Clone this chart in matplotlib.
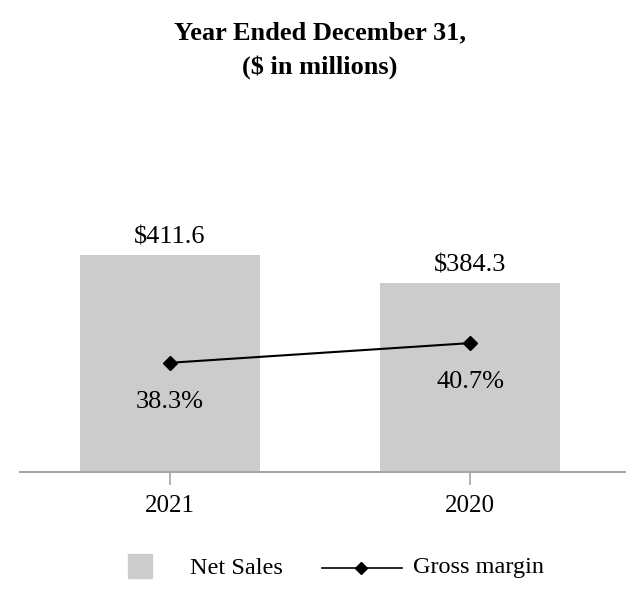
import matplotlib.pyplot as plt
from matplotlib.patches import Rectangle
from matplotlib.lines import Line2D

# data
years = ["2021", "2020"]
net_sales = [411.6, 384.3]
gross_margin = [38.3, 40.7]
sales_labels = ["$411.6", "$384.3"]
margin_labels = ["38.3%", "40.7%"]

plt.rcParams['font.family'] = ['Liberation Serif', 'DejaVu Serif']

BAR_COLOR = "#CCCCCC"
AXIS_COLOR = "#A6A6A6"

fig = plt.figure(figsize=(6.4, 6.12), dpi=100)
ax = fig.add_axes([0.031, 0.229, 0.946, 0.67])
ax2 = ax.twinx()

x = list(range(len(years)))
ax.bar(x, net_sales, width=0.6, color=BAR_COLOR, zorder=1)
ax.set_xlim(-0.5, 1.517)
ax.set_ylim(201, 600)

for xi, v, lab in zip(x, net_sales, sales_labels):
    ax.annotate(lab, (xi, v), xytext=(0, 5), textcoords="offset points",
                ha="center", va="bottom", fontsize=19)

ax2.plot(x, gross_margin, color="black", linewidth=1.5, marker="D",
         markersize=7, zorder=3)
ax2.set_ylim(25, 75)
for xi, v, lab in zip(x, gross_margin, margin_labels):
    ax2.annotate(lab, (xi, v), xytext=(0, -28), textcoords="offset points",
                 ha="center", va="center", fontsize=19)

# axes styling
for a in (ax, ax2):
    for s in ("top", "right", "left"):
        a.spines[s].set_visible(False)
    a.set_yticks([])
ax2.spines["bottom"].set_visible(False)
ax.spines["bottom"].set_color(AXIS_COLOR)
ax.spines["bottom"].set_linewidth(1.5)
ax.set_xticks(x)
ax.set_xticklabels(years, fontsize=18)
ax.tick_params(axis="x", length=9, width=1.2, color=AXIS_COLOR, pad=8)

# title
fig.text(0.5, 1 - 33 / 612, "Year Ended December 31,", ha="center", va="center",
         fontsize=19, fontweight="bold")
fig.text(0.5, 1 - 67 / 612, "($ in millions)", ha="center", va="center",
         fontsize=19, fontweight="bold")

# legend
ly = 1 - 568 / 612
fig.add_artist(Rectangle((128 / 640, 1 - 578 / 612), 24 / 640, 24 / 612,
                         transform=fig.transFigure, color=BAR_COLOR))
fig.text(190 / 640, ly, "Net Sales", ha="left", va="center", fontsize=17.5)
fig.add_artist(Line2D([322 / 640, 402 / 640], [ly, ly], transform=fig.transFigure,
                      color="black", linewidth=1.2))
fig.add_artist(Line2D([361 / 640], [ly], transform=fig.transFigure, color="black",
                      marker="D", markersize=6))
fig.text(413 / 640, ly, "Gross margin", ha="left", va="center", fontsize=17.5)

fig.savefig("out.png", dpi=100)
